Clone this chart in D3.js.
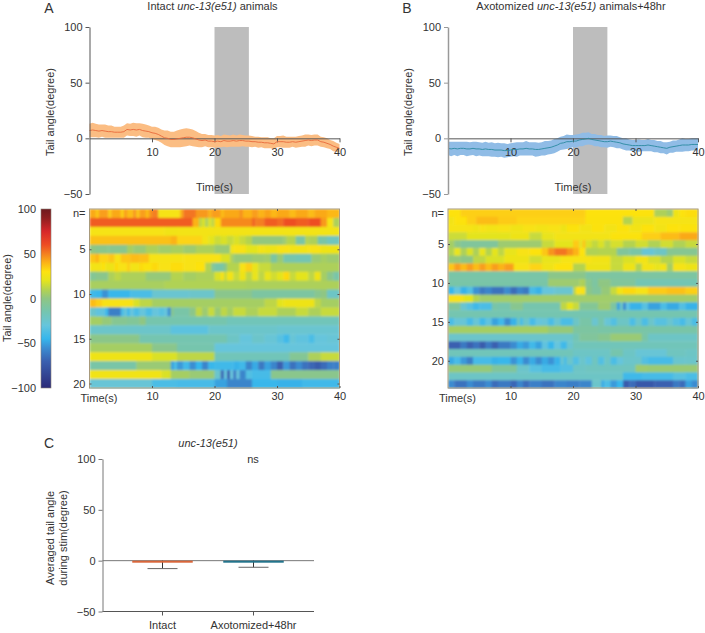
<!DOCTYPE html>
<html>
<head>
<meta charset="utf-8">
<script src="https://cdn.jsdelivr.net/npm/d3@7"></script>
<style>
  html, body { margin: 0; background: #fff; }
  svg { display: block; }
  text { font-family: "Liberation Sans", Arial, sans-serif; font-size: 11px; fill: #333; }
  .tick text { font-size: 11px; fill: #333; }
  .panel { font-size: 14px; }
</style>
</head>
<body>
<div id="vis"></div>
<script>
// ── Data ───────────────────────────────────────────────────────────────

const xTicks = [10, 20, 30, 40];
const yTicks = [-50, 0, 50, 100];
const barTicks = [-100, -50, 0, 50, 100];
const stimWindow = [20, 25.5];

// mean / sem every 0.5 s from 0 to 40
const meanIntact = [
  7,7.5,7,6.5,7,6.5,6,6,5.5,5.5,5.5,6,8,7.5,8,7.5,8,7,6.5,6,5,4.5,3.5,2,0.5,0,-1,-1,-0.5,0,0.5,1,
  1,0.5,-0.5,-1.5,-2,-1.5,-2.5,-2.5,-3,-2.5,-3,-2,-2.5,-2.5,-2,-2.5,-2,-2,-2.5,-2.5,-3,-3,-3.5,-3.5,-4,-4,-4.5,-5,
  -3,-3,-3,-3.5,-3.5,-3,-3.5,-3,-2.5,-2,-1.5,-2,-1.5,-1.5,-3,-3.5,-4.5,-5.5,-7,-8,-9
];
const semIntact = [
  6,6.5,6,6,5.5,6,5.5,5.5,5,5,5,5.5,5.5,5.5,6,6,5.5,6,6,5.5,5.5,6,6,6,6.5,7,7,7,7.5,8,8,8,
  7.5,7.5,7,6.5,6,5.5,5.5,5.5,5.5,5.5,5,5.5,5.5,5,5.5,5,5.5,5,5,5,5,4.5,5,4.5,5,5,4.5,5,
  5,5,5.5,5,5,4.5,5,5,5,5.5,5,5,5,5,4.5,4.5,4.5,4,4.5,4,4
];
const meanAxo = [
  -9,-9.5,-9,-9.5,-9,-9,-9.5,-9.5,-9,-9.5,-9.5,-10,-9.5,-10,-10,-10.5,-10.5,-10.5,-11,-11,-10.5,-10,-10,-9.5,-9.5,-9,-9.5,-9.5,-10,-10,-9.5,-9,
  -8.5,-8,-7,-6,-4.5,-4,-3,-3,-2.5,-2.5,-1.5,-1,-0.5,0,-1,-1.5,-2,-2.5,-3,-3,-2.5,-3,-3.5,-4,-5,-5.5,-6,-6.5,
  -6.5,-6.5,-6.5,-6.5,-6,-6.5,-7,-7.5,-8,-8.5,-9,-8,-7.5,-7,-6.5,-6,-6,-6,-5.5,-5.5,-5.5
];
const semAxo = [
  6,6.5,6,6.5,6,6,6.5,6,6,6.5,6,6,6.5,6,6.5,6,6.5,6,6.5,6,6,6,6.5,6,6,6.5,6,6,6.5,6,6,6.5,
  6,6,6.5,6,6,6,6.5,6,5.5,6,5.5,6,5.5,5.5,5,5.5,5,5.5,5,5.5,5,5,5.5,5,5,5.5,5,5,
  5,5.5,5,5,5.5,5,5.5,5,5.5,5,5.5,5,5.5,5,5.5,6,5.5,5.5,5.5,5.5,5.5
];

// one row per animal, as a flat list: run end (s), value, run end (s), value ...
const heatIntact = [
  [1,42,1.5,36,3,44,3.5,35,5,42,5.5,34,6,44,7,38,7.5,46,8,36,9,44,9.5,38,10,46,11,50,14.5,27,15,42,17,52,19,45,19.5,40,21,44,21.5,38,24,42,24.5,47,26,40,27,44,28,40,29,43,30,39,32,42,33,38,35,42,36,38,38,42,40,39],
  [16.5,57,17.5,40,18,12,18.5,18,19,8,19.5,18,20,12,21,32,26,48,26.5,55,28,50,30,57,31,54,33,60,35,57,37,60,38,45,39,27,40,8],
  [12,27,14,25,18,26,40,26],
  [13,37,14,40,18,33,19,26,20,20,21,15,22,18,23,14,24,18,25,14,26,10,31,1,31.5,4,33,10,34.5,-12,35,10,36.5,8,37,-14,38,-12,40,-20],
  [1,0,3,-3,6,-4,7,6,9,3,11,8,13,5,15,7,17,4,20,8,22.5,3,23,24,25,28,27,20,28,26,30,24,32,28,35,26,37,28,40,24],
  [1,36,1.5,40,3,33,4,36,5,28,6.5,36,8,38,9.5,37,15,27,21,28,22.5,18,23,8,26,2,28,4,29,5,30,-10,31,3,33,-14,35.5,-16,37,3,38,6,40,4],
  [2,26,2.5,30,4,24,4.5,32,6,28,6.5,34,8,26,8.5,32,10,29,11,32,13,28,15,31,17,28,18.5,30,19.5,10,20,-6,21.5,-12,22,-2,24,10,25,28,26,34,27,22,29,14,40,8],
  [1,-6,3,-3,4,8,5,12,9,8,13,2,15,10,17,6,20,8,21,18,21.5,28,22,14,23,26,24,14,25,24,26,12,27,22,28,12,29,22,30,16,31,20,32,32,33,14,35,20,36,12,37,24,38,6,39,-3,40,-12],
  [12,7,25,9,40,8],
  [1,-42,2,-44,3,-54,6.5,-44,10,-38,16,-26,20,-24,26,-3,36,-10,37,-4,38,0,40,-22],
  [1,38,2,34,7,28,8,18,10,12,28,6,30,12,31,20,36,24,37,12,40,6],
  [1,-25,2.5,-32,3,-44,5,-60,5.5,-38,6,-30,6.5,-42,7,-30,8,-38,9,-30,10,-38,11,-30,12,-34,12.5,-30,13,-55,13.5,-5,16,-12,17,-2,18,12,19,4,20,14,21,3,22,12,23,6,25,14,27,8,30,14,33,8,35,14,37,8,40,14],
  [2,6,3.5,2,6,-5,8,-7,9,0,22,-14,40,-18],
  [13,-24,19,-33,30,-24,40,-26],
  [8,-2,22,-15,24,-22,26,-30,28,-24,30,-28,31,-34,32,-42,33,-28,35,-32,36,-38,38,-30,40,-28],
  [10,6,14,-3,20,-14,40,-30],
  [10,24,14,18,20,12,26,-18,32,-18,35,-6,37,8,40,14],
  [7.5,-12,13,3,13.5,-50,14,-38,15,-52,16,-42,17,-55,18,-45,19,-58,20,-44,23,-42,24,-46,25,-42,26,-58,27,-48,28,-62,29,-50,30,-58,31,-70,32,-52,33,-64,34,-56,35,-64,36,-68,37,-72,38,-66,39,-60,40,-60],
  [11.5,25,13,18,16,6,20,3,21,-25,21.5,-68,22,-30,22.5,-70,23,-30,23.5,-62,24,-30,25,-58,26,-36,29,-40,40,-3],
  [10,-28,14,-38,20,-40,22,-50,26,-58,30,-44,34,-46,40,-42]
];

const heatAxo = [
  [2,30,22,34,33,30,35,8,36,4,37,24,38,30,40,31],
  [1,26,3,30,4.5,34,8,38,11,35,22,33,28,29,29.5,10,33,23,40,27],
  [4,27,5,25,6,28,8,26,10,28,12,25,14,28,16,26,18,28,19,24,21,29,23,26,25,29,27,26,29,29,31,26,33,30,35,26,37,30,40,29],
  [3,15,10,20,13,24,15,14,17,22,26,26,31,29,34,34,37,38,40,42],
  [1,6,2,-2,8,-8,15,4,17,14,20,20,21,35,21.5,20,22,36,23,18,24,13,25,18,26,11,28,17,30,10,32,16,34,9,36,16,38,9,40,14],
  [1,10,2,22,3,8,4,18,5,8,6,22,7,10,8,20,9,12,11,22,13,28,15,30,16,36,17,46,19,52,20,46,21,40,22,30,24,9,27,10,29,-8,31,-12,33,-28,35,-22,40,-5],
  [2,2,4,-1,6,12,9,18,13,24,15,16,18,22,23,27,26,25,28,14,30,18,32,26,34,17,36,10,38,18,40,14],
  [1,36,2,44,3,38,4,44,5,38,6,44,7,38,8,44,9,40,10.5,44,13,28,15,33,17,25,20,30,22,10,26,24,28,14,30,24,31,10,33,26,34,22,35,26,36,6,38,27,40,24],
  [16,-12,22,-2,40,-10],
  [16,-12,21,4,22,8,23,-4,24,-10,26,0,30,-8,40,-16],
  [1,-44,2,-30,3,-46,4,-36,5,-54,6,-62,7,-58,9,-64,10,-56,11,-66,12,-58,13,-62,14,-40,15,-46,17,-30,20,-26,20.5,12,21,30,22,28,23,-2,24.5,-8,26,2,27,14,28,26,30,32,32,28,35,35,38,37,40,34],
  [2.5,28,4,20,5,10,40,5],
  [2,-8,3,-26,4,-34,5,-42,7,-38,8,-12,10,-14,12,-4,18,-14,19,12,20,20,21,14,24,-6,26,4,27,-10,27.5,-50,28,-22,28.5,-56,29,-32,31,-46,32,-34,34,-50,35,-38,37,-48,38,-36,40,-46],
  [40,-15],
  [1,-38,3,-28,4,-40,5,-28,6,-42,7,-32,8,-50,9,-42,10,-56,11,-46,11.5,-22,12,-38,13,-24,14,-40,15,-30,16,-28,17,-38,18,-26,20,-38,21,-22,23,-12,24,-26,25,-14,26,-28,27,-36,29,-22,30,-38,31,-24,32,-38,33,-24,35,-34,36,-26,37,-34,38,-40,39,-28,40,-38],
  [16,6,20,2,24,-10,40,-12],
  [20,-24,21,-16,24,-8,26,-4,31,3,32,-12,40,-22],
  [2,-70,3,-62,4,-70,5,-64,6,-72,7,-62,8,-70,10,-62,11,-56,12,-48,13,-52,14,-42,15,-50,16,-32,17,-44,18,-30,19,-42,20,-26,40,-18],
  [20,-18,26,-22,28,-14,30,-22,35,-28,38,-20,40,-22],
  [1,-48,2,-40,3,-52,4,-60,7,-40,8,-46,10,-44,11,-54,12,-46,13,-56,14,-48,15,-56,16,-48,17,-54,18,-46,18.5,-26,19,-38,20,-24,21,-36,22,-24,23,-32,24,-20,25,-36,26,-22,27,-38,28,-30,31,-24,32,-36,36,-40,38,-25,40,-24],
  [7,2,11,-8,13,-24,15,-34,18,-40,20,-36,22,-22,30,-20,32,4,40,3],
  [28,-22,31,-42,36,-40,38,-34,40,-38],
  [1,-56,3,-64,4,-56,6,-62,7,-56,8,-66,10,-62,11,-68,12,-58,13,-66,15,-60,17,-64,19,-58,21,-60,23,-58,24.5,-24,25,-48,26,-38,27,-52,28,-44,29,-72,30,-66,33,-74,36,-70,37,-62,38,-66,39,-50,40,-56]
];

const groups = ["Intact", "Axotomized+48hr"];
const groupMeans = [-2, -2];
const groupErrs = [-7.8, -6.5];
const groupColors = ["#d9663a", "#23748c"];

// colour table of the bar on the left
const cmapValues = [-100, -70, -55, -45, -30, -15, 0, 10, 20, 30, 40, 50, 60, 75, 90, 100];
const cmapColors = ["#2b2a78", "#3a60b0", "#3b8ed2", "#36b6ec", "#66c5dc", "#74c5b0", "#8fc683", "#b4d350",
                    "#e4e41e", "#fde210", "#fcb316", "#f47f20", "#ee4d23", "#d7272a", "#8e1f20", "#6e1a1e"];

// ── Setup ──────────────────────────────────────────────────────────────

const svg = d3.select("#vis").append("svg").attr("width", 705).attr("height", 633);
const AXIS = "#555";
const color = d3.scaleLinear().domain(cmapValues).range(cmapColors);

const defs = svg.append("defs");
defs.append("filter").attr("id", "soft").attr("x", 0).attr("y", 0).attr("width", 1).attr("height", 1)
  .append("feGaussianBlur").attr("stdDeviation", 0.8);

function styleAxis(g, col) {
  g.selectAll(".domain").attr("stroke", col || AXIS).attr("stroke-width", 1);
  g.selectAll(".tick line").attr("stroke", col || AXIS);
  g.selectAll(".tick text").attr("fill", "#333");
}

function label(x, y, txt, opts) {
  const o = opts || {};
  const t = svg.append("text").attr("text-anchor", o.anchor || "middle").attr("dy", "0.35em");
  if (o.rotate) t.attr("transform", `translate(${x},${y}) rotate(-90)`);
  else t.attr("x", x).attr("y", y);
  if (o.cls) t.attr("class", o.cls);
  if (o.italic) t.style("font-style", "italic");
  return t.text(txt);
}

// ── Line panels ────────────────────────────────────────────────────────

function linePanel(left, mean, sem, bandCol, lineCol, yAxisCol) {
  const x = d3.scaleLinear().domain([0, 40]).range([left, left + 250]);
  const y = d3.scaleLinear().domain([-50, 100]).range([194, 27]);
  const g = svg.append("g");

  g.append("rect").attr("x", x(stimWindow[0])).attr("y", y(100))
    .attr("width", x(stimWindow[1]) - x(stimWindow[0])).attr("height", y(-50) - y(100))
    .attr("fill", "#bdbdbd");

  const t = i => i * 0.5;
  const area = d3.area().x((d, i) => x(t(i))).y0((d, i) => y(d - sem[i])).y1((d, i) => y(d + sem[i]));
  g.append("path").datum(mean).attr("d", area).attr("fill", bandCol);

  const ax = g.append("g").attr("transform", `translate(0,${y(0)})`)
    .call(d3.axisBottom(x).tickValues(xTicks).tickFormat(d3.format("d")).tickSize(4).tickSizeOuter(0).tickPadding(6));
  styleAxis(ax);

  const line = d3.line().x((d, i) => x(t(i))).y(d => y(d));
  g.append("path").datum(mean).attr("d", line).attr("fill", "none").attr("stroke", lineCol).attr("stroke-width", 0.9);

  const ay = g.append("g").attr("transform", `translate(${left},0)`)
    .call(d3.axisLeft(y).tickValues(yTicks).tickFormat(d3.format("d")).tickSize(4).tickSizeOuter(0).tickPadding(3));
  styleAxis(ay, yAxisCol);
  ay.select(".domain").attr("stroke-width", yAxisCol === AXIS ? 1 : 1.5);

  label(x(20), 187, "Time(s)");
}

linePanel(89.5, meanIntact, semIntact, "#fbbd83", "#e8693a", AXIS);
linePanel(448, meanAxo, semAxo, "#90bce6", "#2a8aa0", "#999");

label(49, 8, "A", { cls: "panel" });
label(407, 8, "B", { cls: "panel" });
label(50, 112, "Tail angle(degree)", { rotate: true });
label(408, 112, "Tail angle(degree)", { rotate: true });

function title(cx, cy, pre, ital, post) {
  const t = svg.append("text").attr("x", cx).attr("y", cy).attr("text-anchor", "middle").attr("dy", "0.35em");
  t.append("tspan").text(pre);
  t.append("tspan").style("font-style", "italic").text(ital);
  t.append("tspan").text(post);
}
title(212.5, 6, "Intact ", "unc-13(e51)", " animals");
title(571, 6, "Axotomized ", "unc-13(e51)", " animals+48hr");

// ── Heatmaps ───────────────────────────────────────────────────────────

function heatPanel(id, left, rows, rowTicks) {
  const n = rows.length;
  const x = d3.scaleLinear().domain([0, 40]).range([left, left + 250]);
  const y = d3.scaleLinear().domain([0.5, n + 0.5]).range([209, 388]);

  const cells = [];
  rows.forEach((r, i) => {
    let start = 0;
    for (let k = 0; k < r.length; k += 2) {
      cells.push({ row: i + 1, t0: start, t1: r[k], v: r[k + 1] });
      start = r[k];
    }
  });

  svg.append("g").attr("filter", "url(#soft)").selectAll("rect").data(cells).join("rect")
    .attr("x", d => x(d.t0)).attr("y", d => y(d.row - 0.5))
    .attr("width", d => x(d.t1) - x(d.t0) + 0.4).attr("height", d => y(d.row + 0.5) - y(d.row - 0.5) + 0.4)
    .attr("fill", d => color(d.v));

  svg.append("rect").attr("x", left).attr("y", 209).attr("width", 250).attr("height", 179)
    .attr("fill", "none").attr("stroke", "#a89a7c").attr("stroke-width", 1);

  const fmt = d3.format("d");
  const b = svg.append("g").attr("transform", "translate(0,388)")
    .call(d3.axisBottom(x).tickValues(xTicks).tickFormat(fmt).tickSize(-2).tickSizeOuter(0).tickPadding(4));
  styleAxis(b); b.select(".domain").remove();
  const top = svg.append("g").attr("transform", "translate(0,209)")
    .call(d3.axisTop(x).tickValues(xTicks.slice(0, 3)).tickFormat("").tickSize(-2).tickSizeOuter(0));
  styleAxis(top); top.select(".domain").remove();
  const l = svg.append("g").attr("transform", `translate(${left},0)`)
    .call(d3.axisLeft(y).tickValues(rowTicks).tickFormat(fmt).tickSize(-2).tickSizeOuter(0).tickPadding(4));
  styleAxis(l); l.select(".domain").remove();
  const r = svg.append("g").attr("transform", `translate(${left + 250},0)`)
    .call(d3.axisRight(y).tickValues(rowTicks).tickFormat("").tickSize(-2).tickSizeOuter(0));
  styleAxis(r); r.select(".domain").remove();

  label(left - 4, y(1), "n=", { anchor: "end" });
  label(left + 9.5, 398, "Time(s)");
}

heatPanel("a", 89.5, heatIntact, [5, 10, 15, 20]);
heatPanel("b", 448, heatAxo, [5, 10, 15, 20]);

// ── Colour bar ─────────────────────────────────────────────────────────

const cbY = d3.scaleLinear().domain([-100, 100]).range([388, 209]);
const cbGrad = defs.append("linearGradient").attr("id", "cb").attr("x1", 0).attr("x2", 0).attr("y1", 1).attr("y2", 0);
cmapValues.forEach((v, i) => {
  cbGrad.append("stop").attr("offset", (v + 100) / 200).attr("stop-color", cmapColors[i]);
});
svg.append("rect").attr("x", 41).attr("y", cbY(100)).attr("width", 10).attr("height", cbY(-100) - cbY(100))
  .attr("fill", "url(#cb)").attr("stroke", "#8a8078").attr("stroke-width", 0.6);
const cbAxis = svg.append("g").attr("transform", "translate(41,0)")
  .call(d3.axisLeft(cbY).tickValues(barTicks).tickFormat(d3.format("d")).tickSize(0).tickPadding(5));
cbAxis.select(".domain").remove();
cbAxis.selectAll(".tick text").attr("fill", "#333");
label(7, 298, "Tail angle(degree)", { rotate: true });

// ── Panel C ────────────────────────────────────────────────────────────

const cX = d3.scaleBand().domain(groups).range([117, 299]).padding(0);
const cY = d3.scaleLinear().domain([-50, 100]).range([611.5, 459]);
const bw = 60.5;
const cG = svg.append("g");

cG.append("line").attr("x1", 102.5).attr("x2", 314).attr("y1", cY(0)).attr("y2", cY(0)).attr("stroke", "#777");

cG.selectAll("line.err").data(groups).join("line").attr("class", "err")
  .attr("x1", d => cX(d) + cX.bandwidth() / 2).attr("x2", d => cX(d) + cX.bandwidth() / 2)
  .attr("y1", cY(0)).attr("y2", (d, i) => cY(groupErrs[i])).attr("stroke", "#333");
cG.selectAll("line.cap").data(groups).join("line").attr("class", "cap")
  .attr("x1", d => cX(d) + cX.bandwidth() / 2 - 15).attr("x2", d => cX(d) + cX.bandwidth() / 2 + 15)
  .attr("y1", (d, i) => cY(groupErrs[i])).attr("y2", (d, i) => cY(groupErrs[i])).attr("stroke", "#666");
cG.selectAll("rect").data(groups).join("rect")
  .attr("x", d => cX(d) + cX.bandwidth() / 2 - bw / 2).attr("width", bw)
  .attr("y", cY(0)).attr("height", (d, i) => cY(groupMeans[i]) - cY(0))
  .attr("fill", (d, i) => groupColors[i]);

const cB = cG.append("g").attr("transform", `translate(0,${cY(-50)})`)
  .call(d3.axisBottom(cX).tickSize(4).tickSizeOuter(0).tickPadding(6));
styleAxis(cB);
cB.select(".domain").attr("d", "M102.5,0H314");
const cL = cG.append("g").attr("transform", "translate(102.5,0)")
  .call(d3.axisLeft(cY).tickValues(yTicks).tickFormat(d3.format("d")).tickSize(4).tickSizeOuter(0).tickPadding(3));
styleAxis(cL, "#777");

label(49, 443, "C", { cls: "panel" });
label(208, 443, "unc-13(e51)", { italic: true });
label(253, 459, "ns");
label(50, 538, "Averaged tail angle", { rotate: true });
label(63, 538, "during stim(degree)", { rotate: true });
</script>
</body>
</html>
